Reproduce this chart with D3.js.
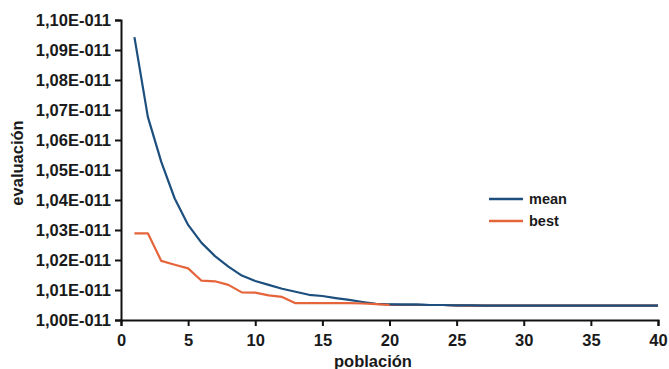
<!DOCTYPE html>
<html>
<head>
<meta charset="utf-8">
<script src="https://cdn.jsdelivr.net/npm/d3@7"></script>
<style>
  body { margin: 0; background: #fff; }
  text { font-family: "Liberation Sans", Arial, sans-serif; font-weight: bold; fill: #1a1a1a; }
</style>
</head>
<body>
<div id="chart"></div>
<script>
// values in units of 1E-011
const poblacion = d3.range(1, 41);
const meanVals = [1.0943, 1.0677, 1.0527, 1.0405, 1.0317, 1.0257, 1.0213, 1.0178, 1.0148, 1.0130,
                  1.0117, 1.0104, 1.0094, 1.0084, 1.0080, 1.0073, 1.0067, 1.0060, 1.0054, 1.0052,
                  1.0051, 1.0051, 1.0050, 1.0050, 1.0049, 1.0049, 1.0048, 1.0048, 1.0048, 1.0048,
                  1.0048, 1.0048, 1.0048, 1.0048, 1.0048, 1.0048, 1.0048, 1.0048, 1.0048, 1.0048];
const bestVals = [1.0289, 1.0289, 1.0197, 1.0184, 1.0172, 1.0131, 1.0129, 1.0117, 1.0092, 1.0091,
                  1.0082, 1.0077, 1.0056, 1.0056, 1.0056, 1.0056, 1.0056, 1.0055, 1.0053, 1.0050,
                  1.0050, 1.0050, 1.0050, 1.0050, 1.0049, 1.0048, 1.0048, 1.0048, 1.0048, 1.0048,
                  1.0048, 1.0048, 1.0048, 1.0048, 1.0048, 1.0048, 1.0048, 1.0048, 1.0048, 1.0048];
const yTicks = [1.00, 1.01, 1.02, 1.03, 1.04, 1.05, 1.06, 1.07, 1.08, 1.09, 1.10];
const xTicks = [0, 5, 10, 15, 20, 25, 30, 35, 40];
const seriesNames = ["mean", "best"];
const seriesColors = ["#1d4f7e", "#e5643a"];

const width = 669, height = 369;
const margin = { top: 20, right: 11, bottom: 49, left: 121 };

const svg = d3.select("#chart").append("svg")
    .attr("width", width)
    .attr("height", height);

const x = d3.scaleLinear().domain([0, 40]).range([margin.left, width - margin.right]);
const y = d3.scaleLinear().domain([1.00, 1.10]).range([height - margin.bottom, margin.top]);

const fmtY = d => d3.format(".2f")(d).replace(".", ",") + "E-011";

// y axis
const yAxis = svg.append("g")
    .attr("transform", "translate(" + margin.left + ",0)")
    .call(d3.axisLeft(y).tickValues(yTicks).tickFormat(fmtY).tickSize(6).tickPadding(4));
yAxis.select(".domain").attr("stroke", "#111").attr("stroke-width", 2);
yAxis.selectAll(".tick line").attr("stroke", "#111").attr("stroke-width", 2);
yAxis.selectAll("text").style("font-size", "16.5px");

// x axis
const xAxis = svg.append("g")
    .attr("transform", "translate(0," + (height - margin.bottom) + ")")
    .call(d3.axisBottom(x).tickValues(xTicks).tickSize(6).tickPadding(8));
xAxis.select(".domain").attr("stroke", "#111").attr("stroke-width", 2);
xAxis.selectAll(".tick line").attr("stroke", "#111").attr("stroke-width", 2);
xAxis.selectAll("text").style("font-size", "16.5px");

// lines
const line = d3.line()
    .x((d, i) => x(poblacion[i]))
    .y(d => y(d));

[meanVals, bestVals].forEach((vals, k) => {
    svg.append("path")
        .datum(vals)
        .attr("fill", "none")
        .attr("stroke", seriesColors[k])
        .attr("stroke-width", 2.2)
        .attr("stroke-linejoin", "round")
        .attr("d", line);
});
// draw mean on top again for the flat tail
svg.append("path")
    .datum(meanVals.slice(19))
    .attr("fill", "none")
    .attr("stroke", seriesColors[0])
    .attr("stroke-width", 2.2)
    .attr("d", d3.line().x((d, i) => x(poblacion[i + 19])).y(d => y(d)));

// legend
const legend = svg.append("g")
    .attr("transform", "translate(489,199)")
    .selectAll("g")
    .data(seriesNames)
    .enter().append("g")
    .attr("transform", (d, i) => "translate(0," + i * 22 + ")");

legend.append("line")
    .attr("x1", 0).attr("x2", 34)
    .attr("y1", 0).attr("y2", 0)
    .attr("stroke", (d, i) => seriesColors[i])
    .attr("stroke-width", 2.5);

legend.append("text")
    .attr("x", 40)
    .attr("dy", "0.35em")
    .style("font-size", "14.5px")
    .text(d => d);

// axis titles
svg.append("text")
    .attr("transform", "translate(23,163) rotate(-90)")
    .attr("text-anchor", "middle")
    .style("font-size", "16.5px")
    .text("evaluación");

svg.append("text")
    .attr("x", 373)
    .attr("y", 367)
    .attr("text-anchor", "middle")
    .style("font-size", "16.5px")
    .text("población");
</script>
</body>
</html>
